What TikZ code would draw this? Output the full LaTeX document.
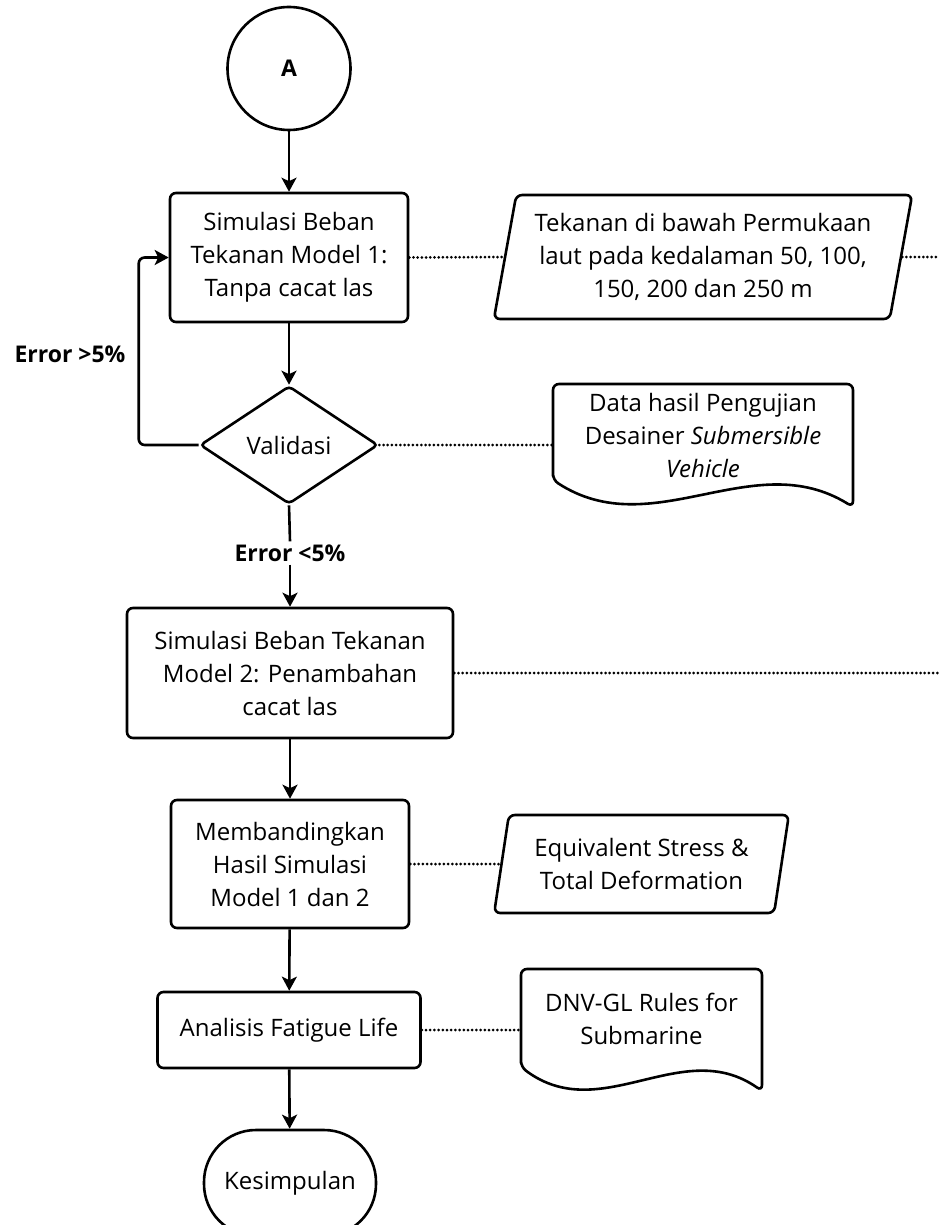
\documentclass[tikz,border=0pt]{standalone}
\usepackage{fontspec}
\setmainfont{Open Sans}
\usetikzlibrary{shapes.geometric,arrows.meta,calc}
\begin{document}
\begin{tikzpicture}[x=1pt,y=-1pt,
  lw/.style={line width=2.6pt},
  txt/.style={align=center, font=\fontsize{24}{33}\selectfont, inner sep=0pt},
  base/.style={txt, lw, draw},
  procbox/.style={base, rectangle, rounded corners=6pt},
  iobox/.style={base, trapezium, trapezium left angle=77, trapezium right angle=103, trapezium stretches=true, rounded corners=6pt},
  decision/.style={base, diamond, rounded corners=4pt},
  flow/.style={lw, -{Stealth[length=14pt,width=15pt,inset=3.5pt]}},
  dots/.style={line width=3pt, dash pattern=on 0pt off 4.2pt, line cap=round},
  lbl/.style={font=\bfseries\fontsize{23}{33}\selectfont, inner sep=3pt}
]
\useasboundingbox (0,0) rectangle (939,1225);

% main column
\node[base, circle, minimum size=123pt, font=\bfseries\fontsize{23}{33}\selectfont] (A) at (289,68.5) {A};
\node[procbox, minimum width=238pt, minimum height=129pt] (b1) at (289,257.5)
  {Simulasi Beban\\Tekanan Model 1:\\Tanpa cacat las};
\node[decision, minimum width=178pt, minimum height=118pt] (v) at (289,445) {Validasi};
\node[lbl] (elo) at (290,553) {Error <5\%};
\node[lbl] (ehi) at (70,354) {Error >5\%};
\node[procbox, minimum width=326pt, minimum height=130pt] (b2) at (290,673)
  {Simulasi Beban Tekanan\\Model 2: Penambahan\\cacat las};
\node[procbox, minimum width=238pt, minimum height=128pt] (b3) at (290,864)
  {Membandingkan\\Hasil Simulasi\\Model 1 dan 2};
\node[procbox, minimum width=263pt, minimum height=76pt] (b4) at (289,1030)
  {Analisis Fatigue Life};
\node[base, rectangle, rounded corners=52pt, minimum width=172pt, minimum height=106pt] (k) at (290,1183)
  {Kesimpulan};

% side inputs
\node[iobox, minimum width=420pt, minimum height=124pt] (p1) at (703,257)
  {Tekanan di bawah Permukaan\\laut pada kedalaman 50, 100,\\150, 200 dan 250 m};
\node[iobox, minimum width=295pt, minimum height=98pt] (p2) at (641.5,864)
  {Equivalent Stress \&\\Total Deformation};

% documents (text nodes + outlines)
\node[txt, minimum width=300pt] (d1) at (703,435)
  {Data hasil Pengujian\\Desainer \textit{Submersible}\\\textit{Vehicle}};
\draw[lw, rounded corners=6pt] (553,480) -- (553,384) -- (853,384) -- (853,507)
  .. controls (753,445) and (653,545) .. (553,480) -- cycle;
\node[txt, minimum width=241pt] (d2) at (641.5,1019)
  {DNV-GL Rules for\\Submarine};
\draw[lw, rounded corners=6pt] (521,1067) -- (521,969) -- (762,969) -- (762,1091)
  .. controls (682,1035) and (601,1127) .. (521,1067) -- cycle;

% edge coordinates for connectors leaving the picture
\coordinate (e1) at (939,257);
\coordinate (e2) at (939,673);

% flow connectors
\draw[flow] (A) -- (b1);
\draw[flow] (b1) -- (v);
\draw[lw] (v.south) -- (elo.north);
\draw[flow] (elo.south) -- (b2.north);
\draw[flow] (b2) -- (b3);
\draw[flow] (b3) -- (b4);
\draw[flow] (b4) -- (k);
\draw[flow, rounded corners=6pt] (v.west) -| ($(b1.west)+(-30,0)$) -- (b1.west);

% dotted associations
\draw[dots] (b1.east) -- (p1.west);
\draw[dots] (p1.east) -- (e1);
\draw[dots] (v.east) -- (v.east -| d1.west);
\draw[dots] (b2.east) -- (e2);
\draw[dots] (b3.east) -- (p2.west);
\draw[dots] (b4.east) -- (b4.east -| d2.west);
\end{tikzpicture}
\end{document}
